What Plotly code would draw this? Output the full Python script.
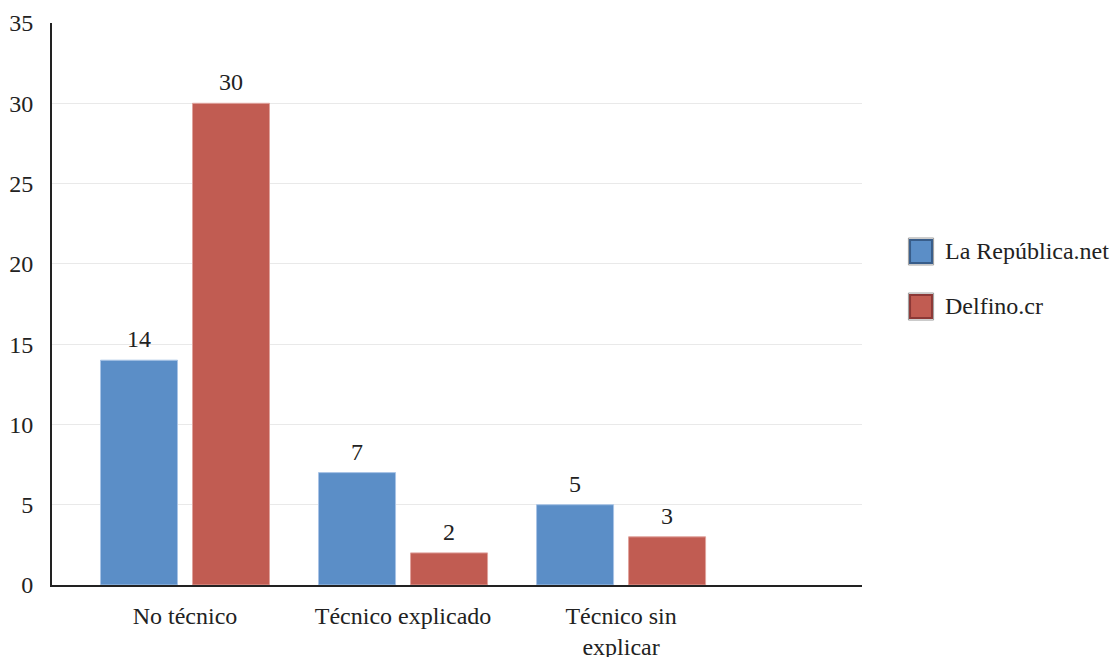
import plotly.graph_objects as go

categories = ["No técnico", "Técnico explicado", "Técnico sin<br>explicar"]
series_names = ["La República.net", "Delfino.cr"]
la_republica = [14, 7, 5]
delfino = [30, 2, 3]
y_ticks = [0, 5, 10, 15, 20, 25, 30, 35]

FONT = "Liberation Serif"
FS = 24
fills = ["#5B8EC7", "#C15C52"]
edges = ["#A9C4E6", "#E0A39D"]
legend_edges = ["#385D8A", "#8C3836"]

fig = go.Figure()
offsets = [-0.211, 0.211]
for i, (name, vals, fc, ec) in enumerate(zip(series_names, [la_republica, delfino], fills, edges)):
    fig.add_trace(go.Bar(
        x=categories, y=vals, name=name, showlegend=False,
        marker=dict(color=fc, line=dict(color=ec, width=1)),
        cliponaxis=False,
    ))
    for j, v in enumerate(vals):
        fig.add_annotation(
            x=j + offsets[i], y=v, xref="x", yref="y", text=str(v),
            showarrow=False, yanchor="bottom", yshift=6,
            font=dict(family=FONT, size=FS, color="#222"),
        )

# manual legend (larger swatches like the reference)
leg_x0, leg_x1, leg_tx = 1.0593, 1.0864, 1.1005
leg_rows = [(0.6139, 0.5730, 0.594), (0.516, 0.475, 0.4964)]
for (y0, y1, ty), name, fc, lc in zip(leg_rows, series_names, fills, legend_edges):
    fig.add_shape(type="rect", xref="paper", yref="paper",
                  x0=leg_x0 - 0.002, x1=leg_x1 + 0.002, y0=y0 + 0.0035, y1=y1 - 0.0035,
                  line=dict(color="#9A9A9A", width=1), fillcolor="rgba(0,0,0,0)")
    fig.add_shape(type="rect", xref="paper", yref="paper",
                  x0=leg_x0, x1=leg_x1, y0=y0, y1=y1,
                  line=dict(color=lc, width=2), fillcolor=fc)
    fig.add_annotation(x=leg_tx, y=ty, xref="paper", yref="paper", text=name,
                       showarrow=False, xanchor="left", yanchor="middle",
                       font=dict(family=FONT, size=FS, color="#222"))

fig.update_layout(
    width=1111, height=649,
    margin=dict(l=44, r=257, t=15, b=72, autoexpand=False),
    paper_bgcolor="white", plot_bgcolor="white",
    barmode="group", bargap=0.156, bargroupgap=0.163,
    font=dict(family=FONT, size=FS, color="#222"),
    showlegend=False,
)
fig.update_xaxes(
    type="category", range=[-0.61, 3.105], automargin=False,
    showline=True, linecolor="#222", linewidth=2,
    showgrid=False, ticks="", ticklabelstandoff=8,
    tickfont=dict(family=FONT, size=FS, color="#222"),
)
fig.update_yaxes(
    range=[0, 35], tickvals=y_ticks, automargin=False,
    showline=True, linecolor="#222", linewidth=2,
    showgrid=True, gridcolor="#E9E9E9", gridwidth=1,
    zeroline=False, ticks="", ticklabelstandoff=12,
    tickfont=dict(family=FONT, size=FS, color="#222"),
)
fig.write_html("out.html")
